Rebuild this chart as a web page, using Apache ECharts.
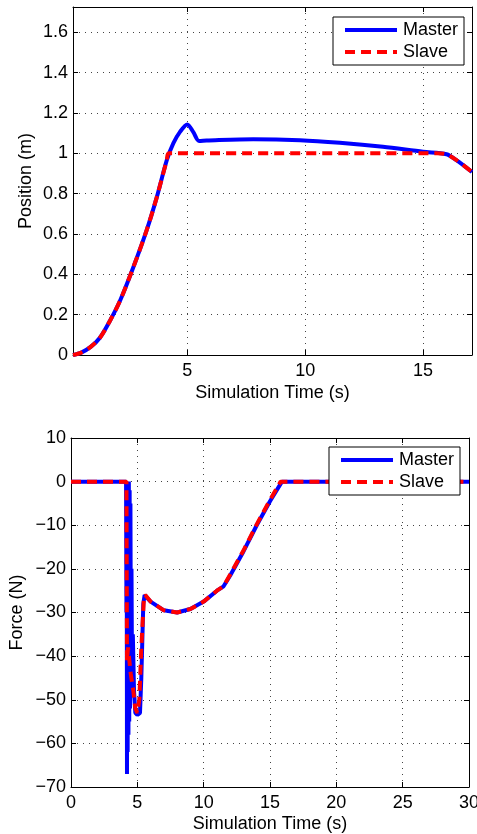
<!DOCTYPE html>
<html><head><meta charset="utf-8">
<script src="https://cdn.jsdelivr.net/npm/echarts@6/dist/echarts.min.js"></script>
<style>html,body{margin:0;padding:0;background:#fff}#c{width:477px;height:834px}</style>
</head><body><div id="c"></div>
<script>
// ---- Position plot data ----
const posMasterT = [0.15,0.5,0.9,1.3,1.72,2.15,2.71,3.28,3.7,4.13,4.41,4.69,5.0,5.25,5.5,5.82,7.8,9.78,11.47,13.3,15.0,16.0,16.42,17.08];
const posMasterY = [0,0.012,0.04,0.087,0.17,0.27,0.435,0.62,0.78,0.966,1.05,1.106,1.143,1.106,1.061,1.063,1.07,1.065,1.052,1.032,1.007,0.995,0.966,0.907];
const posSlaveT = [0.15,0.5,0.9,1.3,1.72,2.15,2.71,3.28,3.7,4.13,4.22,15.6,16.0,16.42,17.08];
const posSlaveY = [0,0.012,0.04,0.087,0.17,0.27,0.435,0.62,0.78,0.966,1.0,1.0,0.995,0.966,0.907];
const posXTicks = [5,10,15];
const posYTicks = [0,0.2,0.4,0.6,0.8,1,1.2,1.4,1.6];
// ---- Force plot data ----
const forceMasterT = [0,4.15,4.18,4.2,4.22,4.24,4.27,4.3,4.33,4.36,4.39,4.42,4.45,4.48,4.52,4.56,4.6,4.66,4.75,4.85,5.0,5.2,5.3,5.45,5.55,6,7,8,9,10,11,11.5,12,13,14,15,15.9,30];
const forceMasterY = [0,0,-30,-5,-67,-15,-62,-3,-58,0,-55,-2,-52,-5,-48,-20,-45,-35,-48,-53,-53.5,-53,-45,-28,-26,-27.5,-29.5,-30,-29.2,-27.5,-25,-24,-21.5,-16,-10,-4.5,0,0];
const forceSlaveT = [0,4.18,4.22,4.3,4.5,4.7,4.85,5.0,5.15,5.3,5.5,5.6,6,7,8,9,10,11,11.5,12,13,14,15,15.8,30];
const forceSlaveY = [0,0,-41,-38,-44,-48,-52,-53,-50,-38,-26.5,-26,-27.5,-29.5,-30,-29.2,-27.5,-25,-24,-21.3,-15.8,-9.8,-4.2,0,0];

const zip = (a,b)=>a.map((v,i)=>[v,b[i]]);
const FONT = 'Liberation Sans, Arial, Helvetica, sans-serif';
const txt = {color:'#000', fontFamily:FONT, fontSize:18};
const minus = v => String(v).replace('-', '\u2212');
const grid = {type:[1,5], color:'#444', width:1};
const tick = {show:true, inside:true, length:5, lineStyle:{color:'#000'}};

const chart = echarts.init(document.getElementById('c'), null, {renderer:'canvas'});
const mkX = (gi, min, max, opts, top) => Object.assign({
  type:'value', gridIndex:gi, min, max, position: top?'top':'bottom',
  axisLine:{show:true, onZero:false, lineStyle:{color:'#000', width:1}},
  axisTick:tick,
  axisLabel:{show:!top, ...txt, margin:7, formatter:minus},
  splitLine:{show:!top, lineStyle:grid}
}, opts);
const mkY = (gi, min, max, opts, right) => Object.assign({
  type:'value', gridIndex:gi, min, max, position: right?'right':'left',
  axisLine:{show:true, onZero:false, lineStyle:{color:'#000', width:1}},
  axisTick:tick,
  axisLabel:{show:!right, ...txt, margin:5, formatter:minus},
  splitLine:{show:!right, lineStyle:grid}
}, opts);

const MASTER_ICON = 'path://M0,0h52v4h-52z';
const SLAVE_ICON = 'path://M0,0h10v4h-10z M16,0h10v4h-10z M32,0h10v4h-10z M48,0h4v4h-4z';
const legendBase = {
  orient:'vertical', backgroundColor:'#fff', borderColor:'#000', borderWidth:1,
  padding:[4,6,4,12], itemGap:4, itemWidth:52, itemHeight:4,
  textStyle:{...txt, padding:[0,0,0,1], lineHeight:18}, selectedMode:false,
  data:[{name:'Master', icon:MASTER_ICON},{name:'Slave', icon:SLAVE_ICON}]
};

chart.setOption({
  animation:false,
  backgroundColor:'#fff',
  grid:[
    {left:73, right:5, top:7, bottom:479, containLabel:false, outerBoundsMode:'none'},
    {left:71, right:8, top:438, bottom:47, containLabel:false, outerBoundsMode:'none'}
  ],
  legend:[
    Object.assign({left:333, top:17}, legendBase),
    Object.assign({left:329, top:447}, legendBase)
  ],
  xAxis:[
    mkX(0, 0.15, 17.08, {name:'Simulation Time (s)', nameLocation:'middle', nameGap:29, nameMoveOverlap:false, nameTextStyle:txt,
      axisTick:{...tick, customValues:posXTicks}, axisLabel:{...txt, margin:7, customValues:posXTicks}}),
    mkX(0, 0.15, 17.08, {axisTick:{...tick, customValues:posXTicks}, axisLabel:{show:false, customValues:posXTicks}}, true),
    mkX(1, 0, 30, {interval:5, name:'Simulation Time (s)', nameLocation:'middle', nameGap:28, nameMoveOverlap:false, nameTextStyle:txt}),
    mkX(1, 0, 30, {interval:5}, true)
  ],
  yAxis:[
    mkY(0, 0, 1.725, {name:'Position (m)', nameLocation:'middle', nameGap:38, nameMoveOverlap:false, nameTextStyle:txt,
      axisTick:{...tick, customValues:posYTicks}, axisLabel:{...txt, margin:5, customValues:posYTicks}}),
    mkY(0, 0, 1.725, {axisTick:{...tick, customValues:posYTicks}, axisLabel:{show:false, customValues:posYTicks}}, true),
    mkY(1, -70, 10, {interval:10, name:'Force (N)', nameLocation:'middle', nameGap:45, nameMoveOverlap:false, nameTextStyle:txt}),
    mkY(1, -70, 10, {interval:10}, true)
  ],
  series:[
    {name:'Master', type:'line', xAxisIndex:0, yAxisIndex:0, data:zip(posMasterT,posMasterY), smooth:0.3, showSymbol:false, symbol:'none', lineStyle:{color:'#0000ff', width:4}, itemStyle:{color:'#0000ff'}},
    {name:'Slave', type:'line', xAxisIndex:0, yAxisIndex:0, data:zip(posSlaveT,posSlaveY), smooth:0.3, showSymbol:false, symbol:'none', lineStyle:{color:'#ff0000', width:4, type:[10,6]}, itemStyle:{color:'#ff0000'}},
    {name:'Master', type:'line', xAxisIndex:2, yAxisIndex:2, data:zip(forceMasterT,forceMasterY), showSymbol:false, symbol:'none', lineStyle:{color:'#0000ff', width:4}, itemStyle:{color:'#0000ff'}},
    {name:'Slave', type:'line', xAxisIndex:2, yAxisIndex:2, data:zip(forceSlaveT,forceSlaveY), showSymbol:false, symbol:'none', lineStyle:{color:'#ff0000', width:4, type:[10,6]}, itemStyle:{color:'#ff0000'}}
  ]
});
</script></body></html>
